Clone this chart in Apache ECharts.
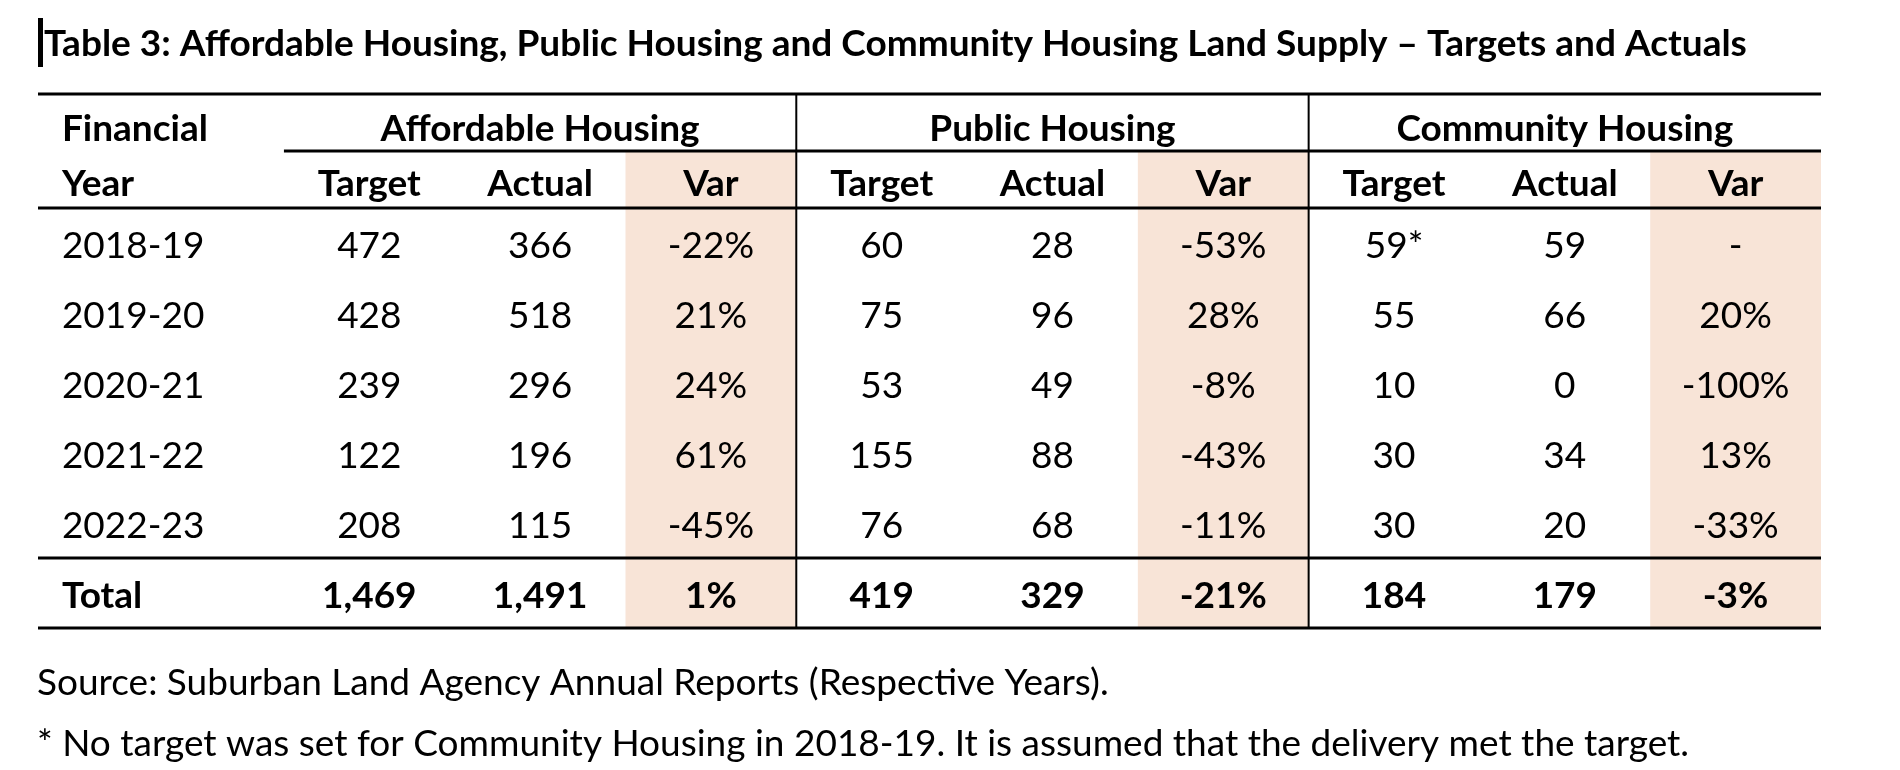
<!DOCTYPE html>
<html><head><meta charset="utf-8">
<script src="https://cdn.jsdelivr.net/npm/echarts@6/dist/echarts.min.js"></script>
<style>html,body{margin:0;padding:0;background:#fff}#c{width:1900px;height:770px}</style>
</head><body><div id="c"></div>
<script>
// ---------- data ----------
const titleText = 'Table 3: Affordable Housing, Public Housing and Community Housing Land Supply \u2013 Targets and Actuals';
const sourceText = 'Source: Suburban Land Agency Annual Reports (Respective Years).';
const noteText = '* No target was set for Community Housing in 2018-19. It is assumed that the delivery met the target.';
const yearHeader = ['Financial', 'Year'];
const groups = ['Affordable Housing', 'Public Housing', 'Community Housing'];
const subHeaders = ['Target', 'Actual', 'Var'];
const years = ['2018-19', '2019-20', '2020-21', '2021-22', '2022-23'];
const affordableTarget = [472, 428, 239, 122, 208];
const affordableActual = [366, 518, 296, 196, 115];
const affordableVar = [-22, 21, 24, 61, -45];
const publicTarget = [60, 75, 53, 155, 76];
const publicActual = [28, 96, 49, 88, 68];
const publicVar = [-53, 28, -8, -43, -11];
const communityTarget = [59, 55, 10, 30, 30];
const communityTargetNote = ['*', '', '', '', ''];
const communityActual = [59, 66, 0, 34, 20];
const communityVar = [null, 20, -100, 13, -33];
const totalLabel = 'Total';
const affordableTotal = [1469, 1491, 1];
const publicTotal = [419, 329, -21];
const communityTotal = [184, 179, -3];

// ---------- layout / style ----------
const FONT = 'Lato, "Noto Sans", sans-serif';
const SIZE = 37;
const SHADE = '#F8E4D7';
const YEAR_COL = 1.44;          // width of year column, in column units
const XMAX = YEAR_COL + 9;
const YEAR_TEXT_X = 0.14;
const BODY_DY = 3;
const HEAD_DY = [7, 5];
const TABLE_LEFT = 38, TABLE_W = 1783;
const HEAD_TOP = 94, HEAD_H = 114, BODY_H = 420;

function colCenter(g, k) { return YEAR_COL + g * 3 + k + 0.5; }
function fmtNum(v) { return v.toLocaleString('en-US'); }
function fmtPct(v) { return v === null ? '-' : v + '%'; }

const targets = [affordableTarget, publicTarget, communityTarget];
const actuals = [affordableActual, publicActual, communityActual];
const vars = [affordableVar, publicVar, communityVar];
const totals = [affordableTotal, publicTotal, communityTotal];

// header cells
const headCells = [];
headCells.push({ x: YEAR_TEXT_X, y: 0.5, text: yearHeader[0], bold: true, align: 'left', dy: HEAD_DY[0] });
headCells.push({ x: YEAR_TEXT_X, y: 1.5, text: yearHeader[1], bold: true, align: 'left', dy: HEAD_DY[1] });
groups.forEach((g, gi) => {
  headCells.push({ x: colCenter(gi, 1), y: 0.5, text: g, bold: true, align: 'center', dy: HEAD_DY[0] });
  subHeaders.forEach((s, si) => headCells.push({ x: colCenter(gi, si), y: 1.5, text: s, bold: true, align: 'center', dy: HEAD_DY[1] }));
});

// body cells
const bodyCells = [];
years.forEach((yr, i) => {
  bodyCells.push({ x: YEAR_TEXT_X, y: i + 0.5, text: yr, bold: false, align: 'left', dy: BODY_DY });
  for (let g = 0; g < 3; g++) {
    const note = g === 2 ? communityTargetNote[i] : '';
    bodyCells.push({ x: colCenter(g, 0), y: i + 0.5, text: fmtNum(targets[g][i]) + note, bold: false, align: 'center', dy: BODY_DY });
    bodyCells.push({ x: colCenter(g, 1), y: i + 0.5, text: fmtNum(actuals[g][i]), bold: false, align: 'center', dy: BODY_DY });
    bodyCells.push({ x: colCenter(g, 2), y: i + 0.5, text: fmtPct(vars[g][i]), bold: false, align: 'center', dy: BODY_DY });
  }
});
const totalRow = years.length;
bodyCells.push({ x: YEAR_TEXT_X, y: totalRow + 0.5, text: totalLabel, bold: true, align: 'left', dy: BODY_DY });
for (let g = 0; g < 3; g++) {
  bodyCells.push({ x: colCenter(g, 0), y: totalRow + 0.5, text: fmtNum(totals[g][0]), bold: true, align: 'center', dy: BODY_DY });
  bodyCells.push({ x: colCenter(g, 1), y: totalRow + 0.5, text: fmtNum(totals[g][1]), bold: true, align: 'center', dy: BODY_DY });
  bodyCells.push({ x: colCenter(g, 2), y: totalRow + 0.5, text: fmtPct(totals[g][2]), bold: true, align: 'center', dy: BODY_DY });
}
const BODY_ROWS = years.length + 1;

// shaded "Var" columns: [x0, y0, x1, y1]
const varCols = [0, 1, 2].map(g => YEAR_COL + g * 3 + 2);
const headShade = varCols.map(x => [x, 1, x + 1, 2]);
const bodyShade = varCols.map(x => [x, 0, x + 1, BODY_ROWS]);

// rules: [x0, y0, x1, y1, width]
const seps = [YEAR_COL + 3, YEAR_COL + 6];
const headRules = [
  [0, 0, XMAX, 0, 3],
  [YEAR_COL, 1, XMAX, 1, 3],
  [0, 2, XMAX, 2, 3]
].concat(seps.map(x => [x, 0, x, 2, 2]));
const bodyRules = [
  [0, years.length, XMAX, years.length, 3],
  [0, BODY_ROWS, XMAX, BODY_ROWS, 3]
].concat(seps.map(x => [x, 0, x, BODY_ROWS, 2]));

function textSeries(cells, gi) {
  return {
    type: 'custom', coordinateSystem: 'cartesian2d', xAxisIndex: gi, yAxisIndex: gi, z: 3,
    data: cells.map(c => [c.x, c.y]),
    renderItem: function (params, api) {
      const c = cells[params.dataIndex];
      const p = api.coord([api.value(0), api.value(1)]);
      return {
        type: 'text', x: p[0], y: p[1] + c.dy,
        style: {
          text: c.text, fill: '#000',
          font: (c.bold ? 'bold ' : '') + SIZE + 'px ' + FONT,
          align: c.align, verticalAlign: 'middle',
          textAlign: c.align, textVerticalAlign: 'middle'
        }
      };
    }
  };
}
function shadeSeries(rects, gi) {
  return {
    type: 'custom', coordinateSystem: 'cartesian2d', xAxisIndex: gi, yAxisIndex: gi, z: 1,
    data: rects,
    renderItem: function (params, api) {
      const a = api.coord([api.value(0), api.value(1)]);
      const b = api.coord([api.value(2), api.value(3)]);
      return { type: 'rect', shape: { x: a[0], y: a[1], width: b[0] - a[0], height: b[1] - a[1] }, style: { fill: SHADE } };
    }
  };
}
function ruleSeries(rules, gi) {
  return {
    type: 'custom', coordinateSystem: 'cartesian2d', xAxisIndex: gi, yAxisIndex: gi, z: 4,
    data: rules,
    renderItem: function (params, api) {
      const a = api.coord([api.value(0), api.value(1)]);
      const b = api.coord([api.value(2), api.value(3)]);
      return { type: 'line', shape: { x1: a[0], y1: a[1], x2: b[0], y2: b[1] }, style: { stroke: '#000', lineWidth: api.value(4) } };
    }
  };
}

const chart = echarts.init(document.getElementById('c'), null, { renderer: 'canvas' });
chart.setOption({
  animation: false,
  backgroundColor: '#fff',
  grid: [
    { left: TABLE_LEFT, top: HEAD_TOP, width: TABLE_W, height: HEAD_H },
    { left: TABLE_LEFT, top: HEAD_TOP + HEAD_H, width: TABLE_W, height: BODY_H }
  ],
  xAxis: [
    { type: 'value', gridIndex: 0, min: 0, max: XMAX, show: false },
    { type: 'value', gridIndex: 1, min: 0, max: XMAX, show: false }
  ],
  yAxis: [
    { type: 'value', gridIndex: 0, min: 0, max: 2, inverse: true, show: false },
    { type: 'value', gridIndex: 1, min: 0, max: BODY_ROWS, inverse: true, show: false }
  ],
  graphic: [
    { type: 'rect', shape: { x: 38, y: 18, width: 5, height: 49 }, style: { fill: '#000' } },
    { type: 'text', x: 44, y: 44, style: { text: titleText, font: 'bold ' + SIZE + 'px ' + FONT, fill: '#000', verticalAlign: 'middle', textVerticalAlign: 'middle' } },
    { type: 'text', x: 37, y: 683, style: { text: sourceText, font: SIZE + 'px ' + FONT, fill: '#000', verticalAlign: 'middle', textVerticalAlign: 'middle' } },
    { type: 'text', x: 37, y: 744, style: { text: noteText, font: SIZE + 'px ' + FONT, fill: '#000', verticalAlign: 'middle', textVerticalAlign: 'middle' } }
  ],
  series: [
    shadeSeries(headShade, 0), shadeSeries(bodyShade, 1),
    textSeries(headCells, 0), textSeries(bodyCells, 1),
    ruleSeries(headRules, 0), ruleSeries(bodyRules, 1)
  ]
});
</script></body></html>
